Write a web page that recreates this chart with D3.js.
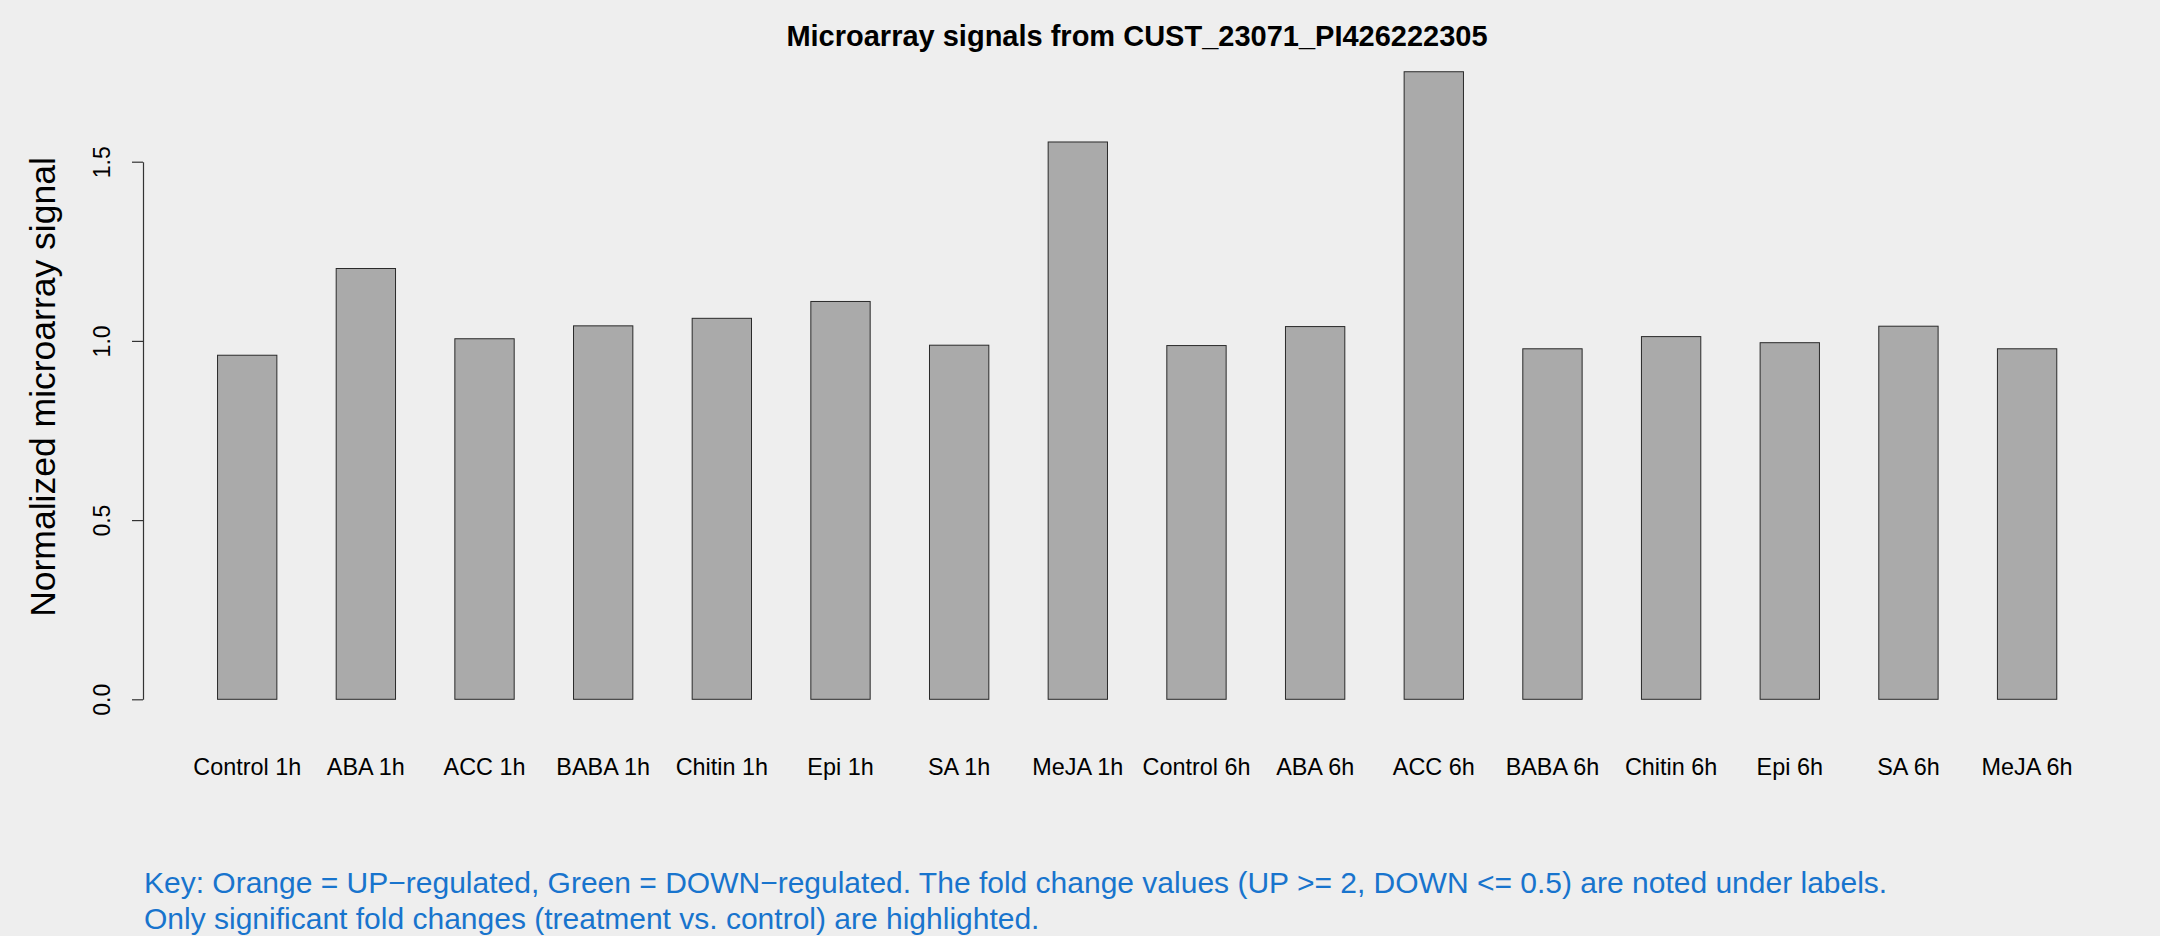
<!DOCTYPE html>
<html>
<head>
<meta charset="utf-8">
<script src="https://cdn.jsdelivr.net/npm/d3@7"></script>
<style>
  html, body { margin: 0; padding: 0; background: #eeeeee; }
  svg { display: block; }
  text { font-family: "Liberation Sans", Arial, Helvetica, sans-serif; }
</style>
</head>
<body>
<svg id="chart" width="2160" height="936"></svg>
<script>
const categories = ["Control 1h", "ABA 1h", "ACC 1h", "BABA 1h", "Chitin 1h", "Epi 1h", "SA 1h", "MeJA 1h",
                    "Control 6h", "ABA 6h", "ACC 6h", "BABA 6h", "Chitin 6h", "Epi 6h", "SA 6h", "MeJA 6h"];
const signalValues = [0.960, 1.202, 1.006, 1.042, 1.063, 1.110, 0.988, 1.555,
                      0.987, 1.040, 1.751, 0.978, 1.012, 0.995, 1.041, 0.978];
const yTicks = [0, 0.5, 1.0, 1.5];
const titleText = "Microarray signals from CUST_23071_PI426222305";
const yLabel = "Normalized microarray signal";
const keyLines = [
  "Key: Orange = UP\u2212regulated, Green = DOWN\u2212regulated. The fold change values (UP >= 2, DOWN <= 0.5) are noted under labels.",
  "Only significant fold changes (treatment vs. control) are highlighted."
];

const svg = d3.select("#chart");
svg.append("rect").attr("width", 2160).attr("height", 936).attr("fill", "#eeeeee");

const x = d3.scaleBand()
  .domain(categories)
  .range([158.2, 2116.1])
  .paddingInner(0.5)
  .paddingOuter(0.5);

const y = d3.scaleLinear()
  .domain([0, 1.5])
  .range([699.3, 161.7]);

// bars
svg.append("g").selectAll("rect")
  .data(categories.map((c, i) => ({ c, v: signalValues[i] })))
  .join("rect")
  .attr("x", d => x(d.c))
  .attr("y", d => y(d.v))
  .attr("width", x.bandwidth())
  .attr("height", d => y(0) - y(d.v))
  .attr("fill", "#aaaaaa")
  .attr("stroke", "#2a2a2a")
  .attr("stroke-width", 1);

// y axis
const axisX = 143;
const yAxis = d3.axisLeft(y)
  .tickValues(yTicks)
  .tickFormat(d3.format(".1f"))
  .tickSize(11)
  .tickSizeOuter(0);
const gy = svg.append("g")
  .attr("transform", `translate(${axisX},0)`)
  .call(yAxis);
gy.select(".domain").attr("stroke", "#333333").attr("stroke-width", 1.2);
gy.selectAll(".tick line").attr("stroke", "#333333").attr("stroke-width", 1.2);
gy.selectAll(".tick text")
  .attr("x", null)
  .attr("dy", null)
  .attr("y", -33)
  .attr("transform", "rotate(-90)")
  .attr("text-anchor", "middle")
  .attr("fill", "#000")
  .style("font-size", "23px")
  .style("font-family", "'Liberation Sans', Arial, sans-serif");

// x category labels
svg.append("g").selectAll("text")
  .data(categories)
  .join("text")
  .attr("x", d => x(d) + x.bandwidth() / 2)
  .attr("y", 775)
  .attr("text-anchor", "middle")
  .attr("fill", "#000")
  .style("font-size", "23.4px")
  .text(d => d);

// title
svg.append("text")
  .attr("x", 1137)
  .attr("y", 46)
  .attr("text-anchor", "middle")
  .attr("fill", "#000")
  .style("font-size", "29px")
  .style("font-weight", "bold")
  .text(titleText);

// y label
svg.append("text")
  .attr("transform", "translate(55,387) rotate(-90)")
  .attr("text-anchor", "middle")
  .attr("fill", "#000")
  .style("font-size", "35.5px")
  .text(yLabel);

// key text
svg.append("g").selectAll("text")
  .data(keyLines)
  .join("text")
  .attr("x", 144)
  .attr("y", (d, i) => 893.3 + i * 36)
  .attr("fill", "rgb(24,116,205)")
  .style("font-size", "30px")
  .text(d => d);
</script>
</body>
</html>
